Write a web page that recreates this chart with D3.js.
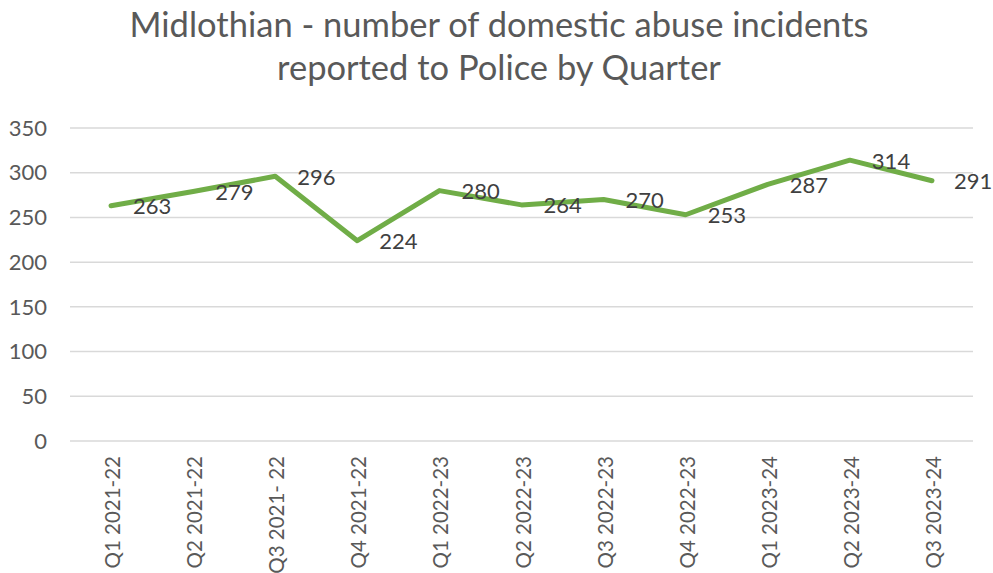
<!DOCTYPE html>
<html>
<head>
<meta charset="utf-8">
<script src="https://cdn.jsdelivr.net/npm/d3@7"></script>
<style>
  body { margin: 0; background: #fff; }
  svg { display: block; font-family: Lato, "Open Sans", sans-serif; }
</style>
</head>
<body>
<svg id="chart"></svg>
<script>
const quarters = ["Q1 2021-22", "Q2 2021-22", "Q3 2021- 22", "Q4 2021-22", "Q1 2022-23", "Q2 2022-23",
    "Q3 2022-23", "Q4 2022-23", "Q1 2023-24", "Q2 2023-24", "Q3 2023-24"];
const incidents = [263, 279, 296, 224, 280, 264, 270, 253, 287, 314, 291];
const yTicks = [0, 50, 100, 150, 200, 250, 300, 350];
const titleLines = ["Midlothian - number of domestic abuse incidents", "reported to Police by Quarter"];

const width = 993;
const height = 573;
const margin = { top: 128, right: 20, bottom: 132, left: 70 };

const svg = d3.select("#chart")
    .attr("width", width)
    .attr("height", height);

// title
svg.append("g")
    .selectAll("text")
    .data(titleLines)
    .join("text")
    .attr("x", 499)
    .attr("y", (d, i) => 37 + i * 43)
    .attr("text-anchor", "middle")
    .attr("font-size", 34.5)
    .attr("fill", "#595959")
    .text(d => d);

const x = d3.scaleBand()
    .domain(quarters)
    .range([margin.left, width - margin.right]);

const y = d3.scaleLinear()
    .domain([0, 350])
    .range([height - margin.bottom, margin.top]);

// gridlines
svg.append("g")
    .selectAll("line")
    .data(yTicks)
    .join("line")
    .attr("x1", margin.left)
    .attr("x2", width - margin.right)
    .attr("y1", d => y(d))
    .attr("y2", d => y(d))
    .attr("stroke", "#d9d9d9")
    .attr("stroke-width", 1.5);

// y axis labels
svg.append("g")
    .selectAll("text")
    .data(yTicks)
    .join("text")
    .attr("x", 47)
    .attr("y", d => y(d))
    .attr("dy", "0.35em")
    .attr("text-anchor", "end")
    .attr("font-size", 22)
    .attr("fill", "#595959")
    .text(d => d);

// x axis labels, rotated
svg.append("g")
    .selectAll("text")
    .data(quarters)
    .join("text")
    .attr("transform", d => `translate(${x(d) + x.bandwidth() / 2 + 9}, ${height - margin.bottom + 15}) rotate(-90)`)
    .attr("text-anchor", "end")
    .attr("font-size", 20.5)
    .attr("fill", "#595959")
    .text(d => d);

const line = d3.line()
    .x((d, i) => x(quarters[i]) + x.bandwidth() / 2)
    .y(d => y(d));

svg.append("path")
    .datum(incidents)
    .attr("d", line)
    .attr("fill", "none")
    .attr("stroke", "#70ad47")
    .attr("stroke-width", 5)
    .attr("stroke-linejoin", "round")
    .attr("stroke-linecap", "round");

// data labels to the right of each point
svg.append("g")
    .selectAll("text")
    .data(incidents)
    .join("text")
    .attr("x", (d, i) => x(quarters[i]) + x.bandwidth() / 2 + 22)
    .attr("y", d => y(d))
    .attr("dy", "0.38em")
    .attr("font-size", 22)
    .attr("fill", "#404040")
    .text(d => d);
</script>
</body>
</html>
